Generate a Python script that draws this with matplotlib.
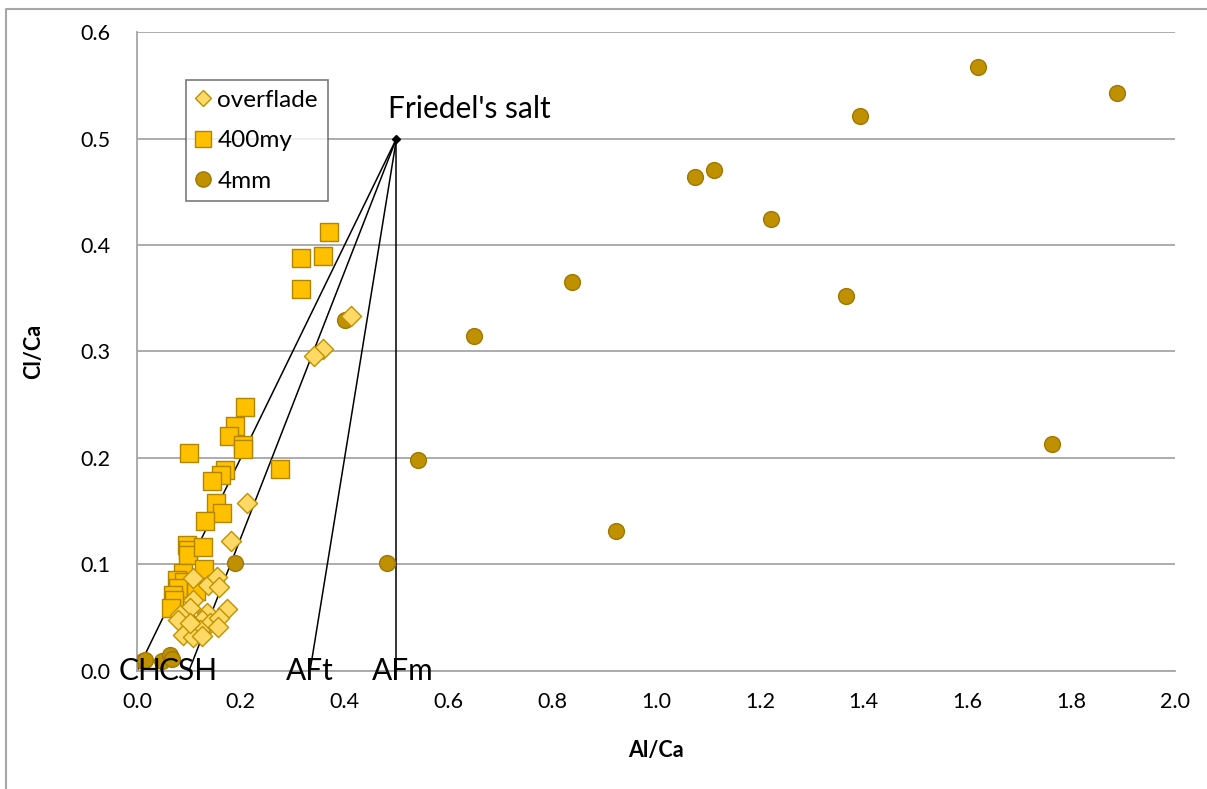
import matplotlib.pyplot as plt
from matplotlib.lines import Line2D

plt.rcParams['font.family'] = ['Lato', 'DejaVu Sans']

# overflade (diamonds)
over_x = [0.412, 0.358, 0.341, 0.212, 0.181, 0.173, 0.108, 0.137, 0.154, 0.158,
          0.108, 0.102, 0.083, 0.079, 0.135, 0.125, 0.141, 0.158, 0.156, 0.112,
          0.121, 0.089, 0.108, 0.125, 0.102]
over_y = [0.333, 0.302, 0.296, 0.158, 0.122, 0.058, 0.087, 0.081, 0.088, 0.079,
          0.067, 0.059, 0.053, 0.048, 0.054, 0.048, 0.045, 0.050, 0.041, 0.041,
          0.038, 0.034, 0.032, 0.033, 0.045]

# 400my (squares)
sq_x = [0.370, 0.316, 0.358, 0.316, 0.276, 0.208, 0.189, 0.177, 0.204, 0.204,
        0.100, 0.170, 0.162, 0.145, 0.152, 0.164, 0.131, 0.096, 0.098, 0.098,
        0.127, 0.129, 0.089, 0.077, 0.091, 0.079, 0.114, 0.069, 0.071, 0.066]
sq_y = [0.412, 0.388, 0.390, 0.359, 0.190, 0.248, 0.230, 0.221, 0.212, 0.208,
        0.205, 0.189, 0.184, 0.178, 0.158, 0.148, 0.141, 0.118, 0.114, 0.109,
        0.116, 0.096, 0.092, 0.085, 0.084, 0.078, 0.075, 0.071, 0.067, 0.059]

# 4mm (circles)
mm_x = [1.620, 1.888, 1.393, 1.112, 1.075, 1.222, 0.838, 1.366, 0.649, 0.401,
        1.763, 0.541, 0.923, 0.482, 0.189, 0.097, 0.012, 0.015, 0.048, 0.064, 0.067]
mm_y = [0.567, 0.543, 0.521, 0.470, 0.464, 0.424, 0.365, 0.352, 0.315, 0.330,
        0.213, 0.198, 0.131, 0.101, 0.101, 0.049, 0.009, 0.010, 0.009, 0.015, 0.011]

# phase end members, tie lines run from Friedel's salt
friedel = (0.5, 0.5)
phases = ['CH', 'CSH', 'AFt', 'AFm']
phase_x = [0.0, 0.1, 1 / 3, 0.5]
label_x = [0.006, 0.098, 0.332, 0.513]

fig = plt.figure(figsize=(12.07, 7.89), dpi=100)
ax = fig.add_axes([0.1135, 0.1496, 0.86, 0.8098])

for px in phase_x:
    ax.plot([px, friedel[0]], [0, friedel[1]], color='black', lw=1.1, zorder=2)
ax.plot(*friedel, marker='D', ms=4, color='black', zorder=5)

ax.scatter(mm_x, mm_y, s=130, marker='o', color='#BF9000', edgecolor='#A07800',
           lw=1, zorder=3, label='4mm')
ax.scatter(sq_x, sq_y, s=150, marker='s', color='#FFC000', edgecolor='#B08600',
           lw=1, zorder=4, label='400my')
ax.scatter(over_x, over_y, s=105, marker='D', color='#FFD966', edgecolor='#BF9000',
           lw=1, zorder=4, label='overflade')

ax.text(0.483, 0.515, "Friedel's salt", fontsize=21.5, ha='left', va='bottom')
for name, lx in zip(phases, label_x):
    ax.text(lx, 0.0, name, fontsize=21.5, ha='center', va='center', zorder=6)

ax.set_xlim(0, 2.0)
ax.set_ylim(0, 0.6)
ax.set_xticks([i / 10 for i in range(0, 21, 2)])
ax.set_yticks([i / 10 for i in range(0, 7)])
ax.xaxis.set_major_formatter(plt.FormatStrFormatter('%.1f'))
ax.yaxis.set_major_formatter(plt.FormatStrFormatter('%.1f'))
ax.tick_params(length=0, labelsize=15.5)
ax.tick_params(axis='y', pad=19)
ax.tick_params(axis='x', pad=15)
ax.yaxis.grid(True, color='#A6A6A6', lw=1.3)
ax.set_axisbelow(True)
for s in ['top', 'right']:
    ax.spines[s].set_visible(False)
for s in ['left', 'bottom']:
    ax.spines[s].set_color('#A6A6A6')
    ax.spines[s].set_linewidth(1.3)

ax.set_xlabel('Al/Ca', fontsize=15.5, fontweight='bold', labelpad=20)
ax.set_ylabel('Cl/Ca', fontsize=15.5, fontweight='bold', labelpad=26)

handles = [
    Line2D([], [], ls='', marker='D', ms=8.5, color='#FFD966', mec='#BF9000', label='overflade'),
    Line2D([], [], ls='', marker='s', ms=11, color='#FFC000', mec='#B08600', label='400my'),
    Line2D([], [], ls='', marker='o', ms=11, color='#BF9000', mec='#A07800', label='4mm'),
]
leg = ax.legend(handles=handles, loc='upper left', bbox_to_anchor=(0.047, 0.925),
                fontsize=17.5, frameon=True, fancybox=False, handletextpad=0.3,
                handlelength=0.6, borderpad=0.4, labelspacing=0.8, borderaxespad=0)
leg.get_frame().set_edgecolor('#595959')
leg.get_frame().set_linewidth(1.2)

# outer chart border (top and left visible)
fig.add_artist(Line2D([6 / 1207, 6 / 1207, 1.0], [0.0, 1 - 9 / 789, 1 - 9 / 789],
                      color='#A6A6A6', lw=1.5))

fig.savefig('out.png', dpi=100)
